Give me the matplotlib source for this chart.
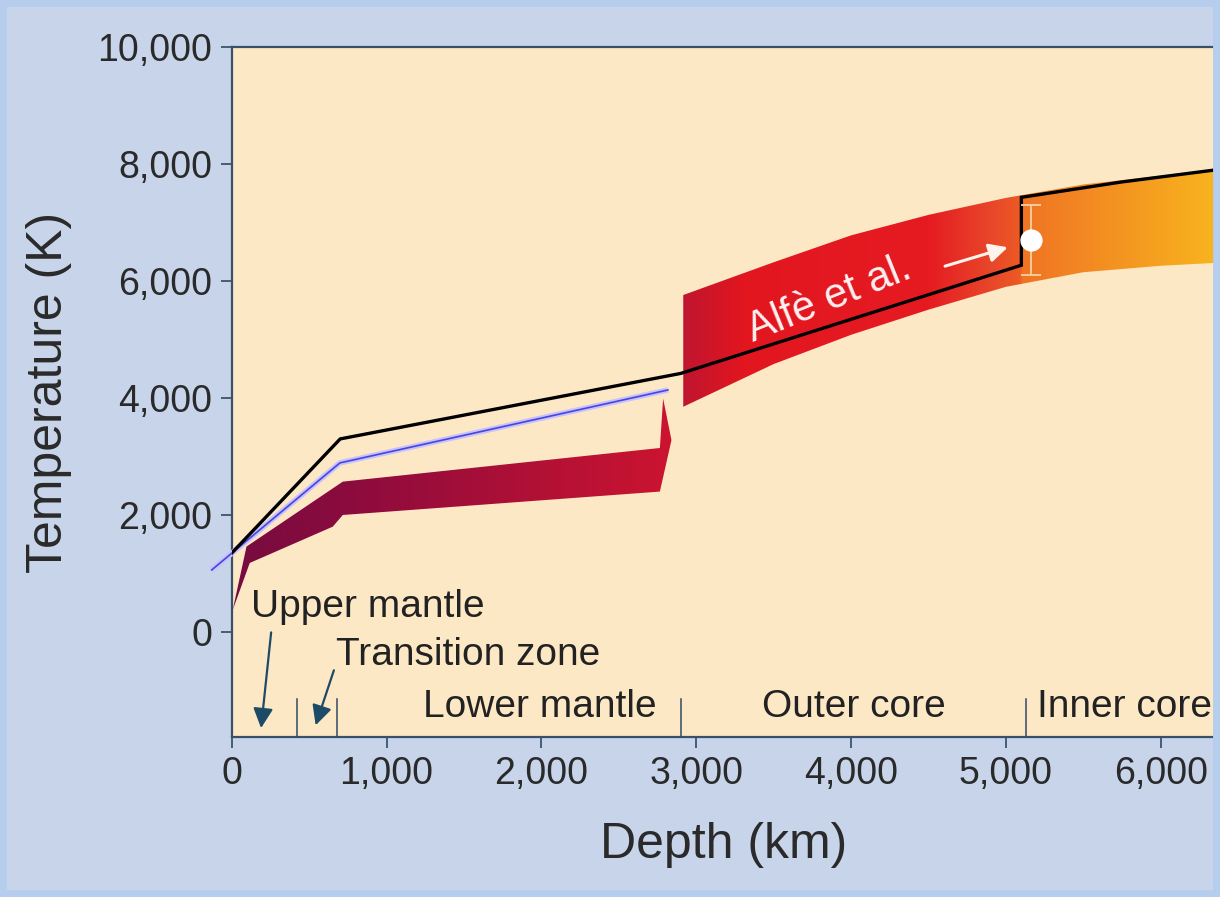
import matplotlib
matplotlib.use("Agg")
import matplotlib.pyplot as plt
from matplotlib.patches import Polygon, Rectangle
from matplotlib.colors import LinearSegmentedColormap
import numpy as np

plt.rcParams['font.family'] = ['Liberation Sans', 'DejaVu Sans']

# axis ticks
x_ticks = [0, 1000, 2000, 3000, 4000, 5000, 6000]
x_labels = ['0', '1,000', '2,000', '3,000', '4,000', '5,000', '6,000']
y_ticks = [0, 2000, 4000, 6000, 8000, 10000]
y_labels = ['0', '2,000', '4,000', '6,000', '8,000', '10,000']

# black geotherm (depth km, temperature K)
geo_depth = [0, 700, 2900, 5100, 5100, 5740, 6357]
geo_temp = [1350, 3300, 4420, 6270, 7430, 7690, 7900]

# thin blue curve
blue_depth = [-130, 698, 2817]
blue_temp = [1060, 2890, 4137]

# mantle band edges
mantle_top_d = [6, 95, 717, 2765, 2786, 2840]
mantle_top_t = [376, 1460, 2570, 3145, 3990, 3280]
mantle_bot_d = [6, 116, 652, 717, 2765]
mantle_bot_t = [376, 1180, 1800, 2000, 2400]

# core band edges
core_top_d = [2916, 3500, 4000, 4500, 5000, 5500, 6000, 6357]
core_top_t = [5760, 6320, 6780, 7130, 7420, 7650, 7800, 7900]
core_bot_d = [2916, 3500, 4000, 4500, 5000, 5500, 6000, 6357]
core_bot_t = [3850, 4580, 5080, 5510, 5900, 6150, 6260, 6310]

# Alfè et al. point
alfe_depth = 5160
alfe_temp = 6700
alfe_err = 600

# layer boundaries and labels
boundaries = [420, 680, 2900, 5130]
layer_names = ['Upper mantle', 'Transition zone', 'Lower mantle', 'Outer core', 'Inner core']
layer_x = [127, 676, 1234, 3424, 5200]
layer_y = [262, -564, -1448, -1448, -1448]


def gradient_band(ax, xs, ys, stops, colors):
    poly = Polygon(np.column_stack([xs, ys]), closed=True, facecolor='none', edgecolor='none')
    ax.add_patch(poly)
    x0, x1 = min(xs), max(xs)
    pos = [(s - x0) / (x1 - x0) for s in stops]
    cmap = LinearSegmentedColormap.from_list('band', list(zip(pos, colors)))
    grad = np.linspace(0, 1, 512).reshape(1, -1)
    im = ax.imshow(grad, extent=[x0, x1, min(ys), max(ys)], cmap=cmap,
                   aspect='auto', origin='lower', zorder=2, interpolation='bilinear')
    im.set_clip_path(poly)


fig = plt.figure(figsize=(12.2, 8.97), dpi=100, facecolor='#c7d4ea')
ax = fig.add_axes([0.190, 0.1784, 0.8067, 0.7692])
ax.set_facecolor('#fde8c6')

gradient_band(ax,
              mantle_top_d + mantle_bot_d[::-1][:-1],
              mantle_top_t + mantle_bot_t[::-1][:-1],
              [6, 700, 2840], ['#760b40', '#8a0b3e', '#cc1430'])

gradient_band(ax,
              core_top_d + core_bot_d[::-1],
              core_top_t + core_bot_t[::-1],
              [2916, 3300, 4500, 4900, 5090, 5115, 6357],
              ['#c01530', '#e2161f', '#e61b22', '#e8462a', '#ec5a24', '#f07424', '#f8b41e'])

ax.plot(blue_depth, blue_temp, color='#c8c0ff', lw=4, zorder=3, clip_on=False, solid_capstyle='butt')
ax.plot(blue_depth, blue_temp, color='#4646d8', lw=1.2, zorder=3, clip_on=False)
ax.plot(geo_depth, geo_temp, color='black', lw=2.4, zorder=4, solid_joinstyle='miter')

ax.errorbar([alfe_depth], [alfe_temp], yerr=[alfe_err], fmt='none', ecolor='#f2d2a2',
            elinewidth=1.3, capsize=7, capthick=1.3, zorder=5)
ax.plot([alfe_depth], [alfe_temp], 'o', color='white', markersize=15, zorder=6)

ax.annotate('', xy=(5030, 6590), xytext=(4590, 6240),
            arrowprops=dict(arrowstyle='-|>', color='#fff4ec', lw=2.2,
                            mutation_scale=28), zorder=6)
ax.text(3860, 5680, 'Alfè et al.', color='#fff0f0', fontsize=30, rotation=22,
        ha='center', va='center', rotation_mode='anchor', zorder=6)

for b in boundaries:
    ax.plot([b, b], [-1800, -1150], color='#2f4a63', lw=1.1, zorder=3)

for name, lx, ly in zip(layer_names, layer_x, layer_y):
    ax.text(lx, ly, name, fontsize=28, color='#222222', ha='left', va='baseline', zorder=5)

ax.annotate('', xy=(187, -1690), xytext=(256, 40),
            arrowprops=dict(arrowstyle='-|>', color='#1d4a66', lw=1.6, mutation_scale=30))
ax.annotate('', xy=(536, -1640), xytext=(665, -610),
            arrowprops=dict(arrowstyle='-|>', color='#1d4a66', lw=1.6, mutation_scale=30))

ax.set_xlim(0, 6357)
ax.set_ylim(-1795, 10000)
ax.set_xticks(x_ticks)
ax.set_xticklabels(x_labels)
ax.set_yticks(y_ticks)
ax.set_yticklabels(y_labels)
ax.tick_params(axis='both', labelsize=27, colors='#2f4a63', labelcolor='#2a2a2a',
               length=8, width=1.2, pad=6, direction='out')
for s in ax.spines.values():
    s.set_color('#3a5068')
    s.set_linewidth(1.6)

ax.set_xlabel('Depth (km)', fontsize=36, color='#2a2a2a', labelpad=21)
ax.set_ylabel('Temperature (K)', fontsize=36, color='#2a2a2a', labelpad=18)

fig.patches.append(Rectangle((0, 0), 1, 1, transform=fig.transFigure, fill=False,
                             edgecolor='#b6cdee', lw=10, zorder=0))

fig.savefig('out.png', dpi=100, facecolor=fig.get_facecolor())
